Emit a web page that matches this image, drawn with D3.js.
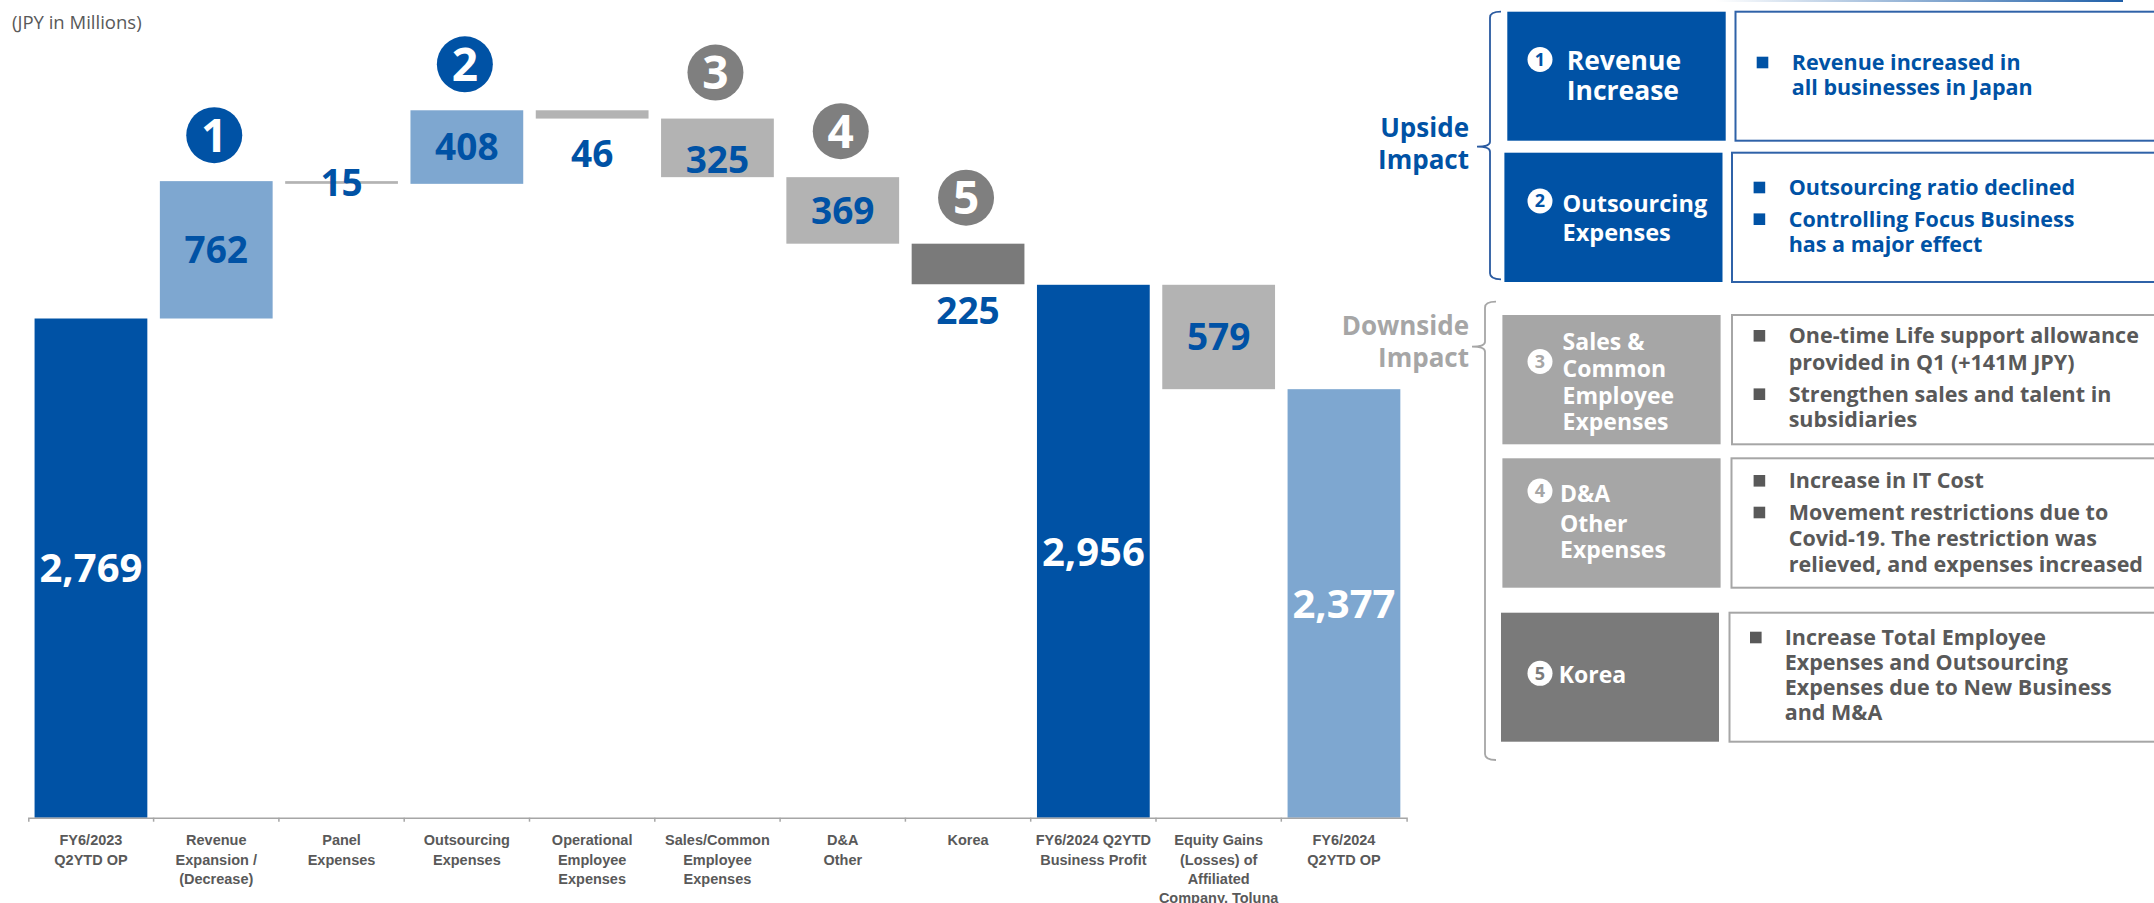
<!DOCTYPE html>
<html><head><meta charset="utf-8">
<script src="https://cdn.jsdelivr.net/npm/d3@7"></script>
<style>
html,body{margin:0;padding:0;background:#fff;}
svg{display:block;font-family:"Open Sans",sans-serif;}
</style></head><body>
<svg id="chart" width="2154" height="903"></svg>
<script>
// ---- data ----
const categories = ["FY6/2023 Q2YTD OP", "Revenue Expansion / (Decrease)", "Panel Expenses",
  "Outsourcing Expenses", "Operational Employee Expenses", "Sales/Common Employee Expenses",
  "D&A Other", "Korea", "FY6/2024 Q2YTD Business Profit",
  "Equity Gains (Losses) of Affiliated Company, Toluna", "FY6/2024 Q2YTD OP"];
const categoryLines = [["FY6/2023","Q2YTD OP"], ["Revenue","Expansion /","(Decrease)"], ["Panel","Expenses"],
  ["Outsourcing","Expenses"], ["Operational","Employee","Expenses"], ["Sales/Common","Employee","Expenses"],
  ["D&A","Other"], ["Korea"], ["FY6/2024 Q2YTD","Business Profit"],
  ["Equity Gains","(Losses) of","Affiliated","Company, Toluna"], ["FY6/2024","Q2YTD OP"]];
const values    = [2769, 762, 15, 408, 46, 325, 369, 225, 2956, 579, 2377];
const stepTypes = ["total","up","down","up","down","down","down","down","total","down","total"];
const fillKeys  = ["base","up","down","up","down","down","down","korea","base","down","result"];
const markers   = [null, 1, null, 2, null, 3, 4, 5, null, null, null];
const unitLabel = "(JPY in Millions)";

const groupLabels = [["Upside","Impact"], ["Downside","Impact"]];
const factorNumbers = [1, 2, 3, 4, 5];
const factorTitles = [["Revenue","Increase"], ["Outsourcing","Expenses"],
  ["Sales &","Common","Employee","Expenses"], ["D&A","Other","Expenses"], ["Korea"]];
const factorNotes = [
  [["Revenue increased in","all businesses in Japan"]],
  [["Outsourcing ratio declined"], ["Controlling Focus Business","has a major effect"]],
  [["One-time Life support allowance","provided in Q1 (+141M JPY)"], ["Strengthen sales and talent in","subsidiaries"]],
  [["Increase in IT Cost"], ["Movement restrictions due to","Covid-19. The restriction was","relieved, and expenses increased"]],
  [["Increase Total Employee","Expenses and Outsourcing","Expenses due to New Business","and M&A"]]
];

// ---- styles ----
const BLUE = "#0052a5", LIGHT = "#7ea7d0", GRAY = "#b3b3b3", DARKGRAY = "#7a7a7a";
const fills = {base: BLUE, up: LIGHT, down: GRAY, korea: DARKGRAY, result: LIGHT};
const markerFill = n => n <= 2 ? BLUE : "#7f7f7f";

const svg = d3.select("#chart");

// ---- scales ----
const x = d3.scaleBand().domain(categories).range([28.3, 1406.6]).paddingInner(0.1).paddingOuter(0.05);
const y = d3.scaleLinear().domain([0, 4500]).range([817.7, 6.44]);

// waterfall spans: totals start at zero, steps float on the running sum
let running = 0;
const bars = values.map((v, i) => {
  let lo, hi;
  if (stepTypes[i] === "total") { lo = 0; hi = v; running = v; }
  else if (stepTypes[i] === "up") { lo = running; hi = running + v; running = hi; }
  else { hi = running; lo = running - v; running = lo; }
  return {i, cat: categories[i], v, lo, hi, type: stepTypes[i], key: fillKeys[i], marker: markers[i]};
});

// unit label
svg.append("text").attr("x", 12).attr("y", 29).attr("fill", "#595959")
  .attr("font-size", 18.5).text(unitLabel);

// bars
svg.append("g").selectAll("rect").data(bars).join("rect")
  .attr("x", d => x(d.cat)).attr("width", x.bandwidth())
  .attr("y", d => y(d.hi)).attr("height", d => y(d.lo) - y(d.hi))
  .attr("fill", d => fills[d.key]);

// value labels
const labelPlacement = {4: ["below", 35], 5: ["mid", 12], 7: ["below", 27]};
const fmt = d3.format(",");
svg.append("g").selectAll("text").data(bars).join("text")
  .attr("text-anchor", "middle")
  .attr("font-weight", 700)
  .attr("font-size", d => d.type === "total" ? 40 : 37)
  .attr("fill", d => d.type === "total" ? "#fff" : BLUE)
  .attr("x", d => x(d.cat) + x.bandwidth() / 2)
  .attr("y", d => {
    const fs = d.type === "total" ? 40 : 37;
    const p = labelPlacement[d.i];
    let cy = (y(d.lo) + y(d.hi)) / 2;
    if (p && p[0] === "below") cy = y(d.lo) + p[1];
    else if (p) cy += p[1];
    return cy + 0.357 * fs;
  })
  .text(d => fmt(d.v));

// numbered markers above the driver bars
const mk = svg.append("g").selectAll("g").data(bars.filter(d => d.marker)).join("g")
  .attr("transform", d => `translate(${x(d.cat) + x.bandwidth() / 2 - 2},${y(d.hi) - 46})`);
mk.append("circle").attr("r", 28).attr("fill", d => markerFill(d.marker));
mk.append("text").attr("text-anchor", "middle").attr("y", 16.5).attr("font-size", 46)
  .attr("font-weight", 700).attr("fill", "#fff").text(d => d.marker);

// category axis
const axisG = svg.append("g").attr("transform", `translate(0,${y(0)})`)
  .call(d3.axisBottom(x).tickSize(0).tickSizeOuter(4).tickPadding(0));
axisG.select(".domain").attr("stroke", "#a6a6a6").attr("stroke-width", 1.5);
axisG.selectAll(".tick text").remove();
const r0 = x.range()[0];
axisG.append("g").selectAll("line").data(d3.range(1, categories.length)).join("line")
  .attr("x1", k => r0 + k * x.step()).attr("x2", k => r0 + k * x.step())
  .attr("y1", 0).attr("y2", 4).attr("stroke", "#a6a6a6").attr("stroke-width", 1.5);
axisG.selectAll(".tick").append("text")
  .attr("text-anchor", "middle").attr("fill", "#595959").attr("font-size", 14.5).attr("font-weight", 700)
  .each(function(c) {
    const lines = categoryLines[categories.indexOf(c)];
    d3.select(this).selectAll("tspan").data(lines).join("tspan")
      .attr("x", 0).attr("y", (t, k) => 27.5 + k * 19.4).text(t => t);
  });

// ---- explanation panel ----
const panel = svg.append("g");
// top accent rule
const grad = svg.append("defs").append("linearGradient").attr("id", "rule");
grad.append("stop").attr("offset", "0%").attr("stop-color", "#fff");
grad.append("stop").attr("offset", "100%").attr("stop-color", "#1f5fa8");
panel.append("rect").attr("x", 1716).attr("y", 0).attr("width", 407).attr("height", 2).attr("fill", "url(#rule)");

// group braces
const braces = [
  {x: 1490, top: 11.7, bot: 279.3, mid: 146.7, color: "#2a5aa0", tx: 1469, lines: [137.3, 169.3], text: BLUE},
  {x: 1485, top: 301.7, bot: 760, mid: 346.7, color: "#a6a6a6", tx: 1469, lines: [335, 366.7], text: "#a6a6a6"}
];
braces.forEach((b, gi) => {
  const p = d3.path();
  p.moveTo(b.x + 11, b.top);
  p.quadraticCurveTo(b.x, b.top, b.x, b.top + 6);
  p.lineTo(b.x, b.mid - 5);
  p.quadraticCurveTo(b.x, b.mid, b.x - 13, b.mid);
  p.quadraticCurveTo(b.x, b.mid, b.x, b.mid + 5);
  p.lineTo(b.x, b.bot - 6);
  p.quadraticCurveTo(b.x, b.bot, b.x + 11, b.bot);
  panel.append("path").attr("d", p.toString()).attr("fill", "none").attr("stroke", b.color).attr("stroke-width", 1.8);
  groupLabels[gi].forEach((t, k) => {
    panel.append("text").attr("text-anchor", "end").attr("font-size", 26).attr("font-weight", 700)
      .attr("fill", b.text).attr("x", b.tx).attr("y", b.lines[k]).text(t);
  });
});

const rows = [
  {y0: 11.7, y1: 140.7, lx0: 1507.3, lx1: 1725.7, rx0: 1735.5, fill: BLUE, border: "#2f62a8", note: BLUE,
   tx: 1566.7, tfs: 26.5, tb: [70, 100], ccy: 59.5, nx: 1791.7, bx: 1756.7, nb: [[70, 95]]},
  {y0: 152.7, y1: 282, lx0: 1504.4, lx1: 1722.5, rx0: 1732, fill: BLUE, border: "#2f62a8", note: BLUE,
   tx: 1562.6, tfs: 23.5, tb: [212, 241], ccy: 201, nx: 1788.7, bx: 1753.6, nb: [[195], [226.7, 251.7]]},
  {y0: 315, y1: 444.3, lx0: 1502.4, lx1: 1720.6, rx0: 1732, fill: "#a6a6a6", border: "#a6a6a6", note: "#595959",
   tx: 1562.6, tfs: 23, tb: [350, 377, 403.5, 430], ccy: 361.5, nx: 1788.7, bx: 1753.6, nb: [[343.3, 370], [401.7, 426.7]]},
  {y0: 458.3, y1: 587.7, lx0: 1502.4, lx1: 1720.6, rx0: 1731.5, fill: "#a6a6a6", border: "#a6a6a6", note: "#595959",
   tx: 1560, tfs: 23, tb: [501.7, 531.7, 558.3], ccy: 491, nx: 1788.7, bx: 1753.6, nb: [[488.3], [520, 546, 571.7]]},
  {y0: 612.7, y1: 741.7, lx0: 1501, lx1: 1719, rx0: 1729.5, fill: DARKGRAY, border: "#a6a6a6", note: "#595959",
   tx: 1558.7, tfs: 23, tb: [683.3], ccy: 673.3, nx: 1784.7, bx: 1750, nb: [[645, 670, 695, 720]]}
];

rows.forEach((r, i) => {
  const g = panel.append("g");
  g.append("rect").attr("x", r.lx0).attr("y", r.y0).attr("width", r.lx1 - r.lx0).attr("height", r.y1 - r.y0)
    .attr("fill", r.fill);
  g.append("rect").attr("x", r.rx0).attr("y", r.y0).attr("width", 2154 + 20 - r.rx0).attr("height", r.y1 - r.y0)
    .attr("fill", "#fff").attr("stroke", r.border).attr("stroke-width", 2);
  g.append("circle").attr("cx", 1540).attr("cy", r.ccy).attr("r", 12.5).attr("fill", "#fff");
  g.append("text").attr("x", 1540).attr("y", r.ccy + 6.3).attr("text-anchor", "middle").attr("font-size", 18)
    .attr("font-weight", 700).attr("fill", r.fill).text(factorNumbers[i]);
  factorTitles[i].forEach((t, k) => {
    g.append("text").attr("font-size", r.tfs).attr("font-weight", 700).attr("fill", "#fff")
      .attr("x", r.tx).attr("y", r.tb[k]).text(t);
  });
  factorNotes[i].forEach((bullet, bi) => {
    const base = r.nb[bi];
    g.append("rect").attr("x", r.bx).attr("y", base[0] - 13.3).attr("width", 11.6).attr("height", 11.6)
      .attr("fill", r.note);
    bullet.forEach((t, k) => {
      g.append("text").attr("font-size", 21.5).attr("font-weight", 700).attr("fill", r.note)
        .attr("x", r.nx).attr("y", base[k]).text(t);
    });
  });
});
</script>
</body></html>
